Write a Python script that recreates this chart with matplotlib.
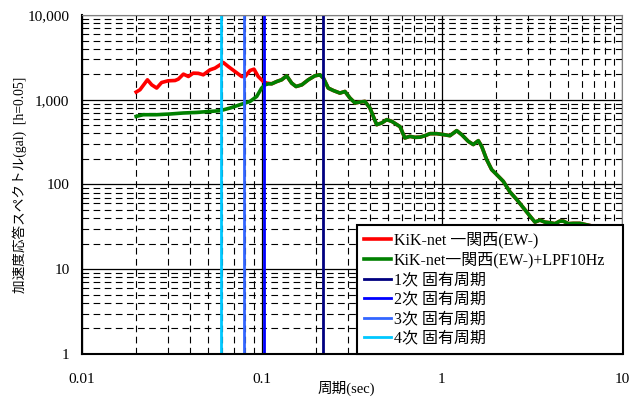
import matplotlib.pyplot as plt
from matplotlib.ticker import FixedLocator, FixedFormatter, NullFormatter, LogLocator
import numpy as np

plt.rcParams['font.family'] = ['Liberation Serif', 'Noto Sans CJK JP']

# red curve: KiK-net 一関西(EW-), part before it joins the filtered one
red_period = [0.0200, 0.0210, 0.0231, 0.0244, 0.0260, 0.0277, 0.0301, 0.0329, 0.0343,
              0.0366, 0.0390, 0.0415, 0.0443, 0.0472, 0.0514, 0.0548, 0.0585, 0.0610,
              0.0650, 0.0708, 0.0771, 0.0806, 0.0858, 0.0903, 0.0953, 0.1017, 0.1062]
red_accel = [1233, 1312, 1719, 1500, 1373, 1598, 1673, 1687, 1752,
             2006, 1881, 2062, 2050, 1969, 2254, 2361, 2582, 2748,
             2465, 2153, 1881, 1881, 2213, 2298, 1881, 1642, 1572]

# green curve: +LPF10Hz, part before it joins
green_period = [0.0200, 0.0219, 0.0260, 0.0308, 0.0366, 0.0434, 0.0514, 0.0585,
                0.0664, 0.0755, 0.0858, 0.0935, 0.0995, 0.1040, 0.1084]
green_accel = [636, 666, 666, 679, 698, 709, 728, 742,
               798, 874, 955, 1094, 1373, 1500, 1540]

# common part, both curves nearly identical
common_period = [0.1133, 0.1209, 0.1285, 0.1371, 0.1462, 0.1546, 0.1665, 0.1808, 0.1967,
                 0.2099, 0.2194, 0.2334, 0.2489, 0.2710, 0.2890, 0.3083, 0.3289, 0.3499,
                 0.3733, 0.3980, 0.4335, 0.4624, 0.4932, 0.5261, 0.5850, 0.6220, 0.6640,
                 0.7080, 0.7550, 0.8060, 0.8580, 0.9360, 1.017, 1.108, 1.207, 1.286,
                 1.400, 1.493, 1.591, 1.662, 1.771, 1.888, 2.013, 2.191, 2.387, 2.600,
                 2.831, 3.083, 3.285, 3.500, 3.730, 3.980, 4.245, 4.520, 4.720, 5.030,
                 5.360, 5.840, 7.000, 8.500, 10.00]
common_accel = [1543, 1642, 1719, 1917, 1572, 1433, 1500, 1719, 1917,
                1969, 1800, 1373, 1286, 1199, 1252, 1047, 915, 939,
                955, 798, 508, 532, 582, 556, 481, 354, 370,
                360, 362, 377, 398, 398, 388, 377, 432, 388,
                323, 296, 329, 282, 197, 150, 131, 109, 81.6, 66.6,
                53.2, 42.4, 36.0, 38.0, 36.0, 35.4, 34.5, 37.0, 37.0, 34.5,
                34.8, 34.8, 32.0, 30.0, 28.0]

# natural periods (sec)
mode_labels = ['1次 固有周期', '2次 固有周期', '3次 固有周期', '4次 固有周期']
mode_periods = [0.218, 0.1026, 0.0794, 0.0591]
mode_colors = ['#000080', '#0000FF', '#3366FF', '#00C8FF']

xticks = [0.01, 0.1, 1, 10]
xtick_labels = ['0.01', '0.1', '1', '10']
yticks = [1, 10, 100, 1000, 10000]
ytick_labels = ['1', '10', '100', '1,000', '10,000']

fig = plt.figure(figsize=(6.42, 3.99), dpi=100)
ax = fig.add_axes([0.1277, 0.1128, 0.8411, 0.8496])

ax.plot(red_period + common_period, red_accel + common_accel,
        color='#FF0000', lw=2.6, solid_joinstyle='round', label='KiK-net 一関西(EW-)')
ax.plot(green_period + common_period, green_accel + common_accel,
        color='#008000', lw=2.6, solid_joinstyle='round', label='KiK-net一関西(EW-)+LPF10Hz')
for p, lab, c in zip(mode_periods, mode_labels, mode_colors):
    ax.axvline(p, color=c, lw=2.0, label=lab)

ax.set_xscale('log')
ax.set_yscale('log')
ax.set_xlim(0.01, 10)
ax.set_ylim(1, 10000)

ax.xaxis.set_major_locator(FixedLocator(xticks))
ax.xaxis.set_major_formatter(FixedFormatter(xtick_labels))
ax.yaxis.set_major_locator(FixedLocator(yticks))
ax.yaxis.set_major_formatter(FixedFormatter(ytick_labels))
ax.xaxis.set_minor_locator(LogLocator(base=10, subs=np.arange(2, 10)))
ax.yaxis.set_minor_locator(LogLocator(base=10, subs=np.arange(2, 10)))
ax.xaxis.set_minor_formatter(NullFormatter())
ax.yaxis.set_minor_formatter(NullFormatter())

ax.grid(which='major', color='black', lw=0.9, ls='-')
ax.grid(which='minor', color='black', lw=0.8, ls=(0, (6, 4)))
ax.set_axisbelow(True)
ax.tick_params(which='both', length=0)
ax.tick_params(axis='x', pad=14, labelsize=11)
ax.tick_params(axis='y', pad=9, labelsize=11)
for s in ['left', 'bottom']:
    ax.spines[s].set_linewidth(1.5)
for s in ['top', 'right']:
    ax.spines[s].set_color('#808080')

ax.set_xlabel('周期(sec)', fontsize=10.5, va='top')
ax.xaxis.set_label_coords(0.49, -0.08)
ax.set_ylabel('加速度応答スペクトル(gal)  [h=0.05]', fontsize=9.8, va='center')
ax.yaxis.set_label_coords(-0.115, 0.5)

leg = ax.legend(loc='lower left', bbox_to_anchor=(0.509, 0.0, 0.4926, 0.38), mode='expand',
                borderaxespad=0, fancybox=False, framealpha=1, edgecolor='black',
                fontsize=11.5, handlelength=1.7, handletextpad=0.15, labelspacing=0.22,
                borderpad=0.45)
leg.get_frame().set_linewidth(1.5)

fig.savefig('out.png', dpi=100)
